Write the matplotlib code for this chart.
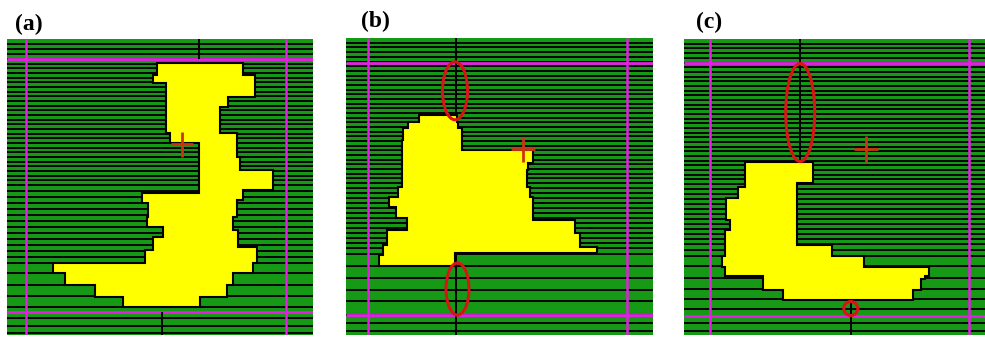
import matplotlib
matplotlib.use("Agg")
import matplotlib.pyplot as plt
from matplotlib.patches import Polygon, Ellipse

W, H = 985, 337

# ---- panel frames (pixel coordinates: x0, x1, y_top, y_bottom) ----
frames = {
    "a": (7, 313, 39, 335),
    "b": (346, 653, 38, 335),
    "c": (684, 985, 39, 335),
}
labels = {"a": "(a)", "b": "(b)", "c": "(c)"}
label_pos = {"a": (15, 14), "b": (361, 11), "c": (696, 12)}

# ---- scan-line boundaries (y) ----
rows_a = [44, 49, 54, 59, 64, 68, 73, 78, 82, 87, 92, 96, 101, 106, 110, 115, 120,
          124, 129, 134, 138, 143, 148, 152, 157, 162, 166, 171, 176, 180, 185,
          191, 197, 203, 209, 215, 221, 227, 233, 239, 245, 251, 257, 263, 273,
          285, 296, 307, 318, 326, 333]
rows_b = [43, 47, 52, 57, 62, 66, 71, 76, 80, 85, 90, 94, 99, 104, 108, 113, 118,
          122, 127, 132, 136, 141, 146, 150, 155, 160, 164, 169, 174, 178, 183,
          188, 193, 198, 203, 208, 213, 218, 223, 228, 233, 238, 243, 248, 254,
          266, 278, 290, 301, 315, 323, 331]
rows_c = [44, 48, 53, 58, 63, 67, 72, 77, 81, 86, 91, 95, 100, 105, 109, 114, 119,
          123, 128, 133, 137, 142, 147, 151, 156, 161, 165, 170, 175, 179, 184,
          189, 194, 199, 204, 209, 214, 219, 224, 229, 234, 239, 244, 250, 256,
          266, 278, 289, 299, 309, 323, 331]

# ---- region profiles: band edges (y) and left / right extent per band ----
shape_y_a = [62.7, 75, 82.7, 96.7, 106.7, 133.3, 143.3, 156.7, 170, 190, 193.3, 200,
             203.3, 216.7, 226.7, 230, 236.7, 246.7, 250, 263.3, 273.3, 285, 296.7, 306.7]
shape_l_a = [157, 153, 166, 166, 166, 170, 199, 199, 199, 199, 142, 142, 148, 147,
             163, 163, 153, 153, 145, 53, 65, 95, 123]
shape_r_a = [243, 255, 255, 228, 220, 237, 237, 240, 273, 243, 243, 237, 237, 233,
             233, 238, 238, 257, 257, 253, 233, 227, 200]

shape_y_b = [115, 121.7, 128.3, 140, 150, 163.3, 170, 186.7, 196.7, 206.7, 218.3, 220,
             230, 233.3, 245, 246.7, 252.7, 255, 266]
shape_l_b = [419, 408, 403, 402, 402, 402, 402, 398, 389, 396, 407, 407, 387, 387,
             383, 383, 383, 379]
shape_r_b = [457, 458, 462, 462, 533, 528, 527, 530, 533, 533, 533, 575, 575, 580,
             580, 597, 455, 455]

shape_y_c = [161.7, 182.7, 186.7, 198.3, 220, 230, 245, 256, 266.7, 276, 279, 289.5, 300]
shape_l_c = [745, 745, 738, 726, 730, 725, 725, 722, 725, 763, 763, 783]
shape_r_c = [813, 797, 797, 797, 797, 797, 832, 864, 929, 925, 921, 913]

# ---- guide lines ----
magenta_h = {"a": [58.7, 311.7], "b": [62.5, 315], "c": [63, 315.5]}
magenta_v = {"a": [25.8, 286], "b": [368, 627.3], "c": [710, 969.3]}
# vertical black segments: (x, y_start, y_end)
black_v = {
    "a": [(199.3, 39, 59), (162, 312, 335)],
    "b": [(456, 38, 115), (456, 252.7, 335)],
    "c": [(800, 39, 162), (851, 300, 335)],
}
# centroid markers (x, y)
cross = {"a": (181.5, 144.3), "b": (523, 149.3), "c": (865.7, 149.3)}
cross_half = {"a": (11, 12.5), "b": (12, 12.5), "c": (12, 13)}
# highlighted gaps: (cx, cy, width, height)
ellipses = {
    "a": [],
    "b": [(455, 90.8, 25, 58), (457.5, 289, 23, 52)],
    "c": [(800.2, 112.5, 29, 98), (850.8, 308.5, 14, 14)],
}

rows = {"a": rows_a, "b": rows_b, "c": rows_c}
shapes = {
    "a": (shape_y_a, shape_l_a, shape_r_a),
    "b": (shape_y_b, shape_l_b, shape_r_b),
    "c": (shape_y_c, shape_l_c, shape_r_c),
}

GREEN = "#169a16"
YELLOW = "#ffff00"
MAGENTA = "#e51ee5"
RED = "#d81414"
CROSS_RED = "#cc3410"

fig = plt.figure(figsize=(W / 100, H / 100), dpi=100)
fig.patch.set_facecolor("white")


def outline(ys, ls, rs):
    pts = []
    for i in range(len(ls)):
        pts.append((rs[i], ys[i]))
        pts.append((rs[i], ys[i + 1]))
    for i in reversed(range(len(ls))):
        pts.append((ls[i], ys[i + 1]))
        pts.append((ls[i], ys[i]))
    return pts


for key, (x0, x1, yt, yb) in frames.items():
    ax = fig.add_axes([x0 / W, 1 - yb / H, (x1 - x0) / W, (yb - yt) / H])
    ax.set_xlim(x0, x1)
    ax.set_ylim(yb, yt)
    ax.axis("off")
    ax.add_patch(plt.Rectangle((x0, yt), x1 - x0, yb - yt, color=GREEN, zorder=0))

    ax.hlines(rows[key], x0, x1, colors="#050805", linewidth=1.45, zorder=1)
    ax.hlines(magenta_h[key], x0, x1, colors=MAGENTA, linewidth=2.0, zorder=2)
    ax.vlines(magenta_v[key], yt, yb, colors=MAGENTA, linewidth=1.8, zorder=2)
    for (x, ya, yb2) in black_v[key]:
        ax.vlines(x, ya, yb2, colors="black", linewidth=1.4, zorder=3)

    ys, ls, rs = shapes[key]
    ax.add_patch(Polygon(outline(ys, ls, rs), closed=True, facecolor=YELLOW,
                         edgecolor="black", linewidth=1.5, zorder=4))

    cx, cy = cross[key]
    hx, hy = cross_half[key]
    ax.plot([cx - hx, cx + hx], [cy, cy], color=CROSS_RED, lw=2.0, zorder=6,
            solid_capstyle="butt")
    ax.plot([cx, cx], [cy - hy, cy + hy], color=CROSS_RED, lw=2.0, zorder=6,
            solid_capstyle="butt")

    for (ex, ey, ew, eh) in ellipses[key]:
        ax.add_patch(Ellipse((ex, ey), ew, eh, fill=False, edgecolor=RED,
                             linewidth=2.2, zorder=7))

    lx, ly = label_pos[key]
    fig.text(lx / W, 1 - ly / H, labels[key], ha="left", va="top",
             fontsize=17, fontweight="bold", family=["Liberation Serif", "DejaVu Serif"])

fig.savefig("out.png", dpi=100, facecolor="white")
